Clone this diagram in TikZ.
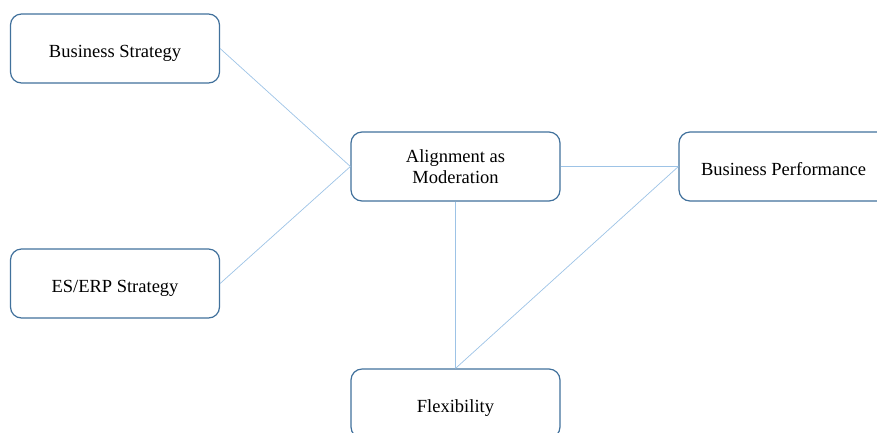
\documentclass[tikz,border=0pt]{standalone}
\usepackage{fontspec}
\setmainfont{Liberation Serif}
\definecolor{boxline}{RGB}{65,113,156}
\definecolor{linkline}{RGB}{157,195,230}
\tikzset{
  factor/.style={draw=boxline, line width=1.2pt, rounded corners=11pt, fill=white,
    minimum width=209pt, minimum height=69pt, align=center,
    font=\fontsize{18.5}{21.5}\selectfont},
  oneline/.style={factor, text height=17pt, text depth=0pt},
  link/.style={draw=linkline, line width=0.7pt}
}
\begin{document}
\begin{tikzpicture}[x=1pt,y=-1pt]
  \useasboundingbox (0,0) rectangle (877,432);
  \clip (0,0) rectangle (877,432);

  \node[oneline] (strategy) at (115,48.5) {Business Strategy};
  \node[oneline] (erp) at (115,283.5) {ES/ERP Strategy};
  \node[factor] (align) at (455.5,166.5) {Alignment as\\Moderation};
  \node[oneline] (perf) at (783.5,166.5) {Business Performance};
  \node[oneline] (flex) at (455.5,403.5) {Flexibility};

  \draw[link] (strategy.east) -- (align.west);
  \draw[link] (erp.east) -- (align.west);
  \draw[link] (align.east) -- (perf.west);
  \draw[link] (align.south) -- (flex.north);
  \draw[link] (flex.north) -- (perf.west);

\end{tikzpicture}
\end{document}
